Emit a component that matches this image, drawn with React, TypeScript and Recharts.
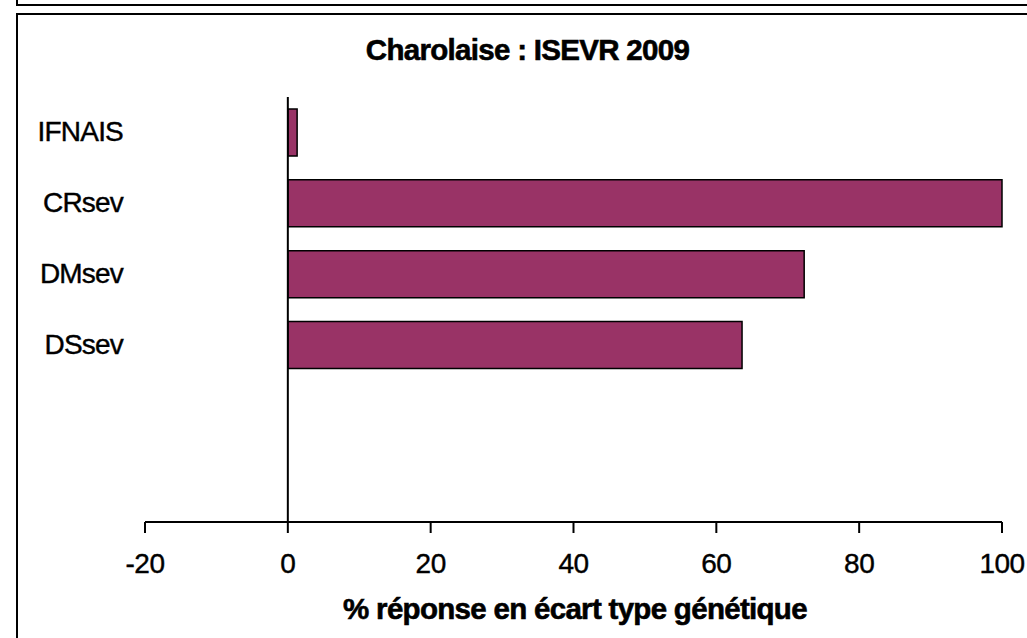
import React from "react";
import { BarChart, Bar, XAxis, YAxis, ReferenceLine } from "recharts";

const categories = ["IFNAIS", "CRsev", "DMsev", "DSsev", "", " "];
const values = [1.3, 100, 72.3, 63.6, null, null];
const xTicks = [-20, 0, 20, 40, 60, 80, 100];

const data = categories.map((c, i) => ({ name: c, value: values[i] }));

const FONT = "'Liberation Sans', Arial, sans-serif";

const YTick = (props: any) => {
  const { y, payload } = props;
  return (
    <text x={123} y={y} dy={9} textAnchor="end" fontFamily={FONT} fontSize={28} fill="#000" stroke="#000" strokeWidth={0.4} letterSpacing={-0.8}>
      {payload.value}
    </text>
  );
};

export default function App() {
  return (
    <div style={{ position: "absolute", left: 0, top: 0, width: 1027, height: 638, background: "#fff", overflow: "hidden" }}>
      <div style={{ position: "absolute", left: 16, top: -20, width: 1100, height: 26, border: "2px solid #000", boxSizing: "border-box" }} />
      <div style={{ position: "absolute", left: 16, top: 13, width: 1100, height: 700, border: "2px solid #000", boxSizing: "border-box" }} />
      <div style={{ position: "absolute", left: 0, top: 0 }}>
        <BarChart
          width={1027}
          height={638}
          data={data}
          layout="vertical"
          margin={{ top: 97, right: 25, bottom: 66, left: 0 }}
        >
          <XAxis
            type="number"
            domain={[-20, 100]}
            ticks={xTicks}
            interval={0}
            axisLine={{ stroke: "#000", strokeWidth: 2 }}
            tickLine={{ stroke: "#000", strokeWidth: 2 }}
            tickSize={11}
            tickMargin={20}
            height={50}
            tick={{ fill: "#000", stroke: "#000", strokeWidth: 0.4, fontSize: 28, fontFamily: FONT, letterSpacing: -0.5 }}
          />
          <YAxis
            type="category"
            dataKey="name"
            width={145}
            axisLine={false}
            tickLine={false}
            interval={0}
            tick={<YTick />}
          />
          <ReferenceLine x={0} stroke="#000" strokeWidth={2} />
          <Bar dataKey="value" fill="#993366" stroke="#000" strokeWidth={1.5} barSize={47} isAnimationActive={false} />
        </BarChart>
      </div>
      <div style={{ position: "absolute", left: 0, width: 1055, top: 32, textAlign: "center", fontFamily: FONT, fontWeight: "bold", fontSize: 29.5, letterSpacing: -0.7, lineHeight: "36px", WebkitTextStroke: "0.6px #000" }}>
        Charolaise : ISEVR 2009
      </div>
      <div style={{ position: "absolute", left: 0, width: 1150, top: 591, textAlign: "center", fontFamily: FONT, fontWeight: "bold", fontSize: 29.5, letterSpacing: -0.7, lineHeight: "36px", WebkitTextStroke: "0.6px #000" }}>
        % réponse en écart type génétique
      </div>
    </div>
  );
}
